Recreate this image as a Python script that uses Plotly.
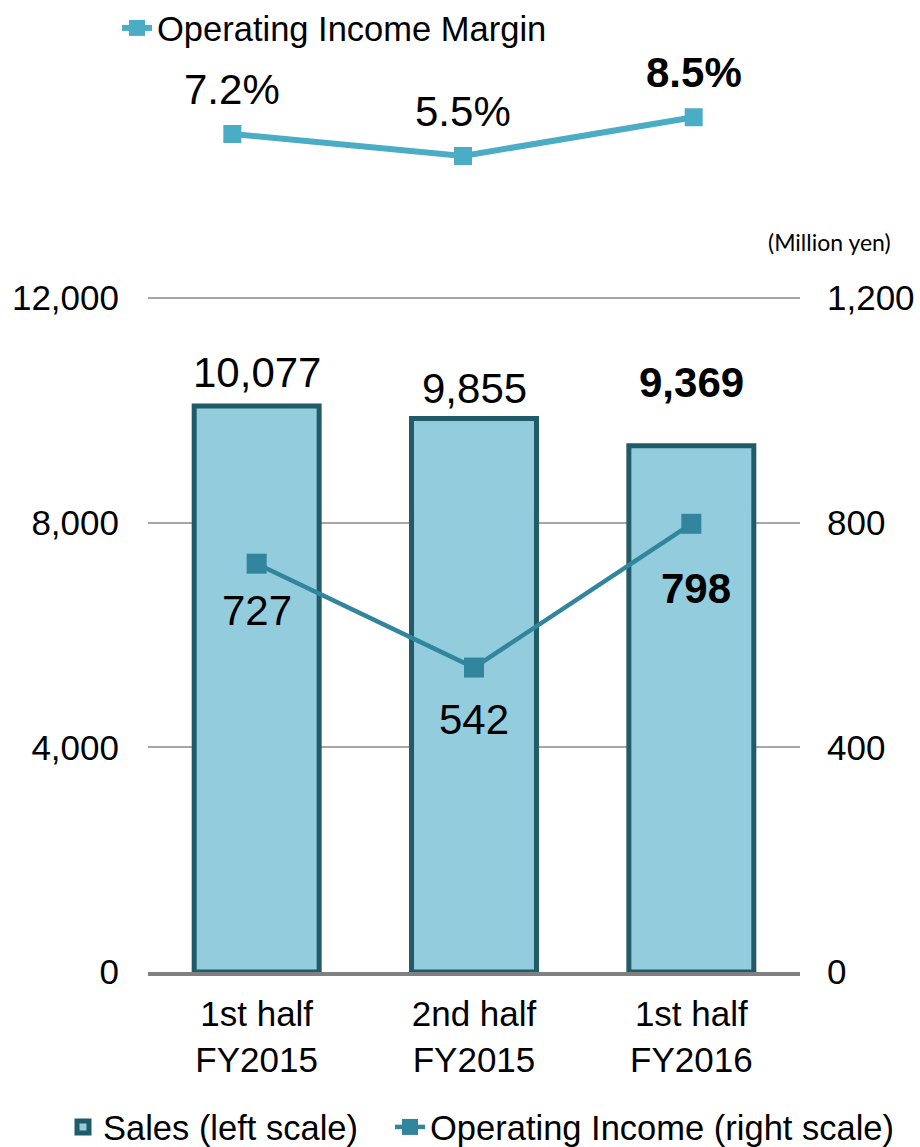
import plotly.graph_objects as go

categories = ["1st half<br>FY2015", "2nd half<br>FY2015", "1st half<br>FY2016"]
sales = [10077, 9855, 9369]
op_income = [727, 542, 798]
margin = [7.2, 5.5, 8.5]
sales_text = ["10,077", "9,855", "<b>9,369</b>"]
op_text = ["727", "542", "<b>798</b>"]
margin_text = ["7.2%", "5.5%", "<b>8.5%</b>"]
left_ticks = [0, 4000, 8000, 12000]
right_ticks = [0, 400, 800, 1200]

# label offsets (pixels) – styling only
sales_shift = [34, 30, 63]
op_shift = [-47, -52, -65]
op_xshift = [0, 0, 5]
margin_shift = [44, 44, 45]

FONT = "Liberation Sans, Arial, sans-serif"
x_idx = [0, 1, 2]

fig = go.Figure()
fig.add_trace(go.Bar(
    x=x_idx, y=sales, name="Sales (left scale)", width=0.575,
    marker=dict(color="#93CDDD", line=dict(color="#215A69", width=5)),
    xaxis="x", yaxis="y", legend="legend",
))
fig.add_trace(go.Scatter(
    x=x_idx, y=op_income, name="Operating Income (right scale)", mode="lines+markers",
    line=dict(color="#31859C", width=4.5),
    marker=dict(symbol="square", size=20, color="#31859C"),
    xaxis="x", yaxis="y2", legend="legend3",
))
fig.add_trace(go.Scatter(
    x=x_idx, y=margin, name="Operating Income Margin", mode="lines+markers",
    line=dict(color="#4BACC6", width=6),
    marker=dict(symbol="square", size=18, color="#4BACC6"),
    xaxis="x2", yaxis="y3", legend="legend2",
))

LBL = 42
ann = []
for i in x_idx:
    ann.append(dict(x=i, y=sales[i], xref="x", yref="y", text=sales_text[i], showarrow=False,
                    yanchor="middle", yshift=sales_shift[i], font=dict(size=LBL, color="black", family=FONT)))
    ann.append(dict(x=i, y=op_income[i], xref="x", yref="y2", text=op_text[i], showarrow=False,
                    yanchor="middle", yshift=op_shift[i], xshift=op_xshift[i],
                    font=dict(size=LBL, color="black", family=FONT)))
    ann.append(dict(x=i, y=margin[i], xref="x2", yref="y3", text=margin_text[i], showarrow=False,
                    yanchor="middle", yshift=margin_shift[i], font=dict(size=LBL, color="black", family=FONT)))
ann.append(dict(x=(893 - 100) / 720, y=(972 - 242) / 972, xref="paper", yref="paper", xanchor="right",
                yanchor="middle", text="(Million yen)", showarrow=False,
                font=dict(size=23, color="black", family="Lato, Open Sans, sans-serif")))

# main plot: 0 at y=972px, 12000 at y=298px (674 px); range extended a little so the
# top gridline is not clipped at the plot edge
PX_PER_UNIT = 674 / 12000
TOP_EXTRA = 100

legend_common = dict(orientation="h", xanchor="left", yanchor="middle",
                     font=dict(size=34.5), bgcolor="rgba(0,0,0,0)", itemwidth=30)

fig.update_layout(
    width=920, height=1147,
    margin=dict(l=100, r=100, t=0, b=175, autoexpand=False),
    paper_bgcolor="white", plot_bgcolor="white",
    font=dict(family=FONT, size=35, color="black"),
    xaxis=dict(domain=[(148 - 100) / 720, (800 - 100) / 720], range=[-0.5, 2.5],
               tickvals=x_idx, ticktext=categories, showgrid=False, zeroline=False,
               showline=True, linecolor="#808080", linewidth=4, ticks="",
               tickfont=dict(size=35), anchor="y", ticklabelstandoff=8, automargin=False),
    yaxis=dict(domain=[0, (674 + TOP_EXTRA * PX_PER_UNIT) / 972], range=[0, 12000 + TOP_EXTRA],
               tickvals=left_ticks,
               tickformat=",d", showgrid=True, gridcolor="#A6A6A6", gridwidth=1.5,
               zeroline=False, showline=False, ticks="", ticklabelstandoff=28,
               tickfont=dict(size=35), automargin=False),
    yaxis2=dict(overlaying="y", side="right", range=[0, 1200 + TOP_EXTRA / 10], tickvals=right_ticks,
                tickformat=",d", showgrid=False, zeroline=False, showline=False,
                ticks="", ticklabelstandoff=26, tickfont=dict(size=35), anchor="x",
                automargin=False),
    xaxis2=dict(domain=[(117 - 100) / 720, (809 - 100) / 720], range=[-0.5, 2.5],
                visible=False, anchor="y3"),
    yaxis3=dict(domain=[(972 - 227) / 972, (972 - 97.8) / 972], range=[0, 10],
                visible=False, anchor="x2"),
    legend=dict(x=(63 - 100) / 720, y=(972 - 1127) / 972, **legend_common),
    legend3=dict(x=(390 - 100) / 720, y=(972 - 1127) / 972, **legend_common),
    legend2=dict(x=(117 - 100) / 720, y=(972 - 28) / 972, **legend_common),
    annotations=ann,
    showlegend=True,
)

fig.write_html("out.html")
